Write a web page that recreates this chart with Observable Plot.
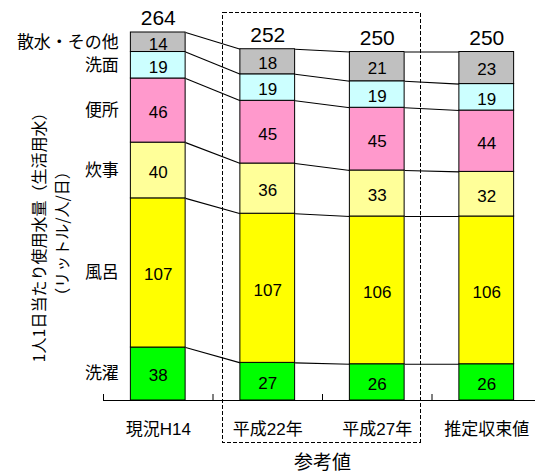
<!DOCTYPE html>
<html>
<head>
<meta charset="utf-8">
<script src="https://cdn.jsdelivr.net/npm/d3@7"></script>
<script src="https://cdn.jsdelivr.net/npm/@observablehq/plot@0.6"></script>
<style>
  html, body { margin: 0; padding: 0; background: #fff; overflow: hidden; }
</style>
</head>
<body>
<div id="chart"></div>
<script>
const categories = ["現況H14", "平成22年", "平成27年", "推定収束値"];
const uses = ["洗濯", "風呂", "炊事", "便所", "洗面", "散水・その他"];
const washing = [38, 27, 26, 26];
const bath = [107, 107, 106, 106];
const kitchen = [40, 36, 33, 32];
const toilet = [46, 45, 45, 44];
const washbasin = [19, 19, 19, 19];
const other = [14, 18, 21, 23];
const totals = [264, 252, 250, 250];
const referenceGroup = ["平成22年", "平成27年"];
const referenceLabel = "参考値";
const yTitle = "1人1日当たり使用水量（生活用水）\n（リットル/人/日）";
const colors = ["#00ff00", "#ffff00", "#ffff99", "#ff99cc", "#ccffff", "#c0c0c0"];

const series = [washing, bath, kitchen, toilet, washbasin, other];
const hw = 0.25; // half bar width in band units

// stacked table
const cells = [];
const cum = categories.map(() => [0]);
categories.forEach((c, i) => {
  let acc = 0;
  series.forEach((s, k) => {
    const y1 = acc, y2 = acc + s[i];
    cells.push({cat: c, i, use: uses[k], value: s[i], y1, y2, mid: (y1 + y2) / 2});
    acc = y2;
    cum[i].push(acc);
  });
});
const links = [];
for (let i = 0; i < categories.length - 1; i++) {
  for (let k = 1; k <= uses.length; k++) {
    links.push({x1: i + hw, x2: i + 1 - hw, y1: cum[i][k], y2: cum[i + 1][k]});
  }
}
const totalData = categories.map((c, i) => ({i, total: totals[i]}));
const catData = categories.map((c, i) => ({i, c}));
const boundaries = d3.range(categories.length).map(i => i - 0.5);
const firstBar = cells.filter(d => d.i === 0);
const r0 = categories.indexOf(referenceGroup[0]);
const r1 = categories.indexOf(referenceGroup[1]);

const font = "'Liberation Sans', Arial, 'Noto Sans CJK JP', sans-serif";

const chart = Plot.plot({
  width: 535,
  height: 474,
  marginLeft: 103,
  marginRight: 0,
  marginTop: 32,
  marginBottom: 74,
  style: {fontFamily: font, background: "#fff", color: "#000"},
  x: {domain: [-0.5, categories.length - 0.5], range: [103, 541], axis: null},
  y: {domain: [0, d3.max(totals)], axis: null},
  color: {domain: uses, range: colors},
  marks: [
    Plot.rect([{x1: r0 - hw, x2: r1 + hw, y1: 0, y2: d3.max(totals)}], {
      x1: "x1", x2: "x2", y1: "y1", y2: "y2",
      fill: "none", stroke: "#000", strokeWidth: 1, strokeDasharray: "4,2",
      shapeRendering: "crispEdges",
      insetLeft: -17, insetRight: -16, insetTop: -20, insetBottom: -42
    }),
    Plot.link(links, {x1: "x1", x2: "x2", y1: "y1", y2: "y2", stroke: "#000", strokeWidth: 1.1}),
    Plot.rect(cells, {
      x1: d => d.i - hw, x2: d => d.i + hw, y1: "y1", y2: "y2",
      fill: "use", stroke: "#000", strokeWidth: 1
    }),
    Plot.text(cells, {
      x: "i", y: "mid", text: d => String(d.value),
      fontSize: 17, dy: 2, fill: "#000", lineAnchor: "middle"
    }),
    Plot.text(totalData, {
      x: "i", y: "total", text: d => String(d.total),
      fontSize: 21, dy: -14, fill: "#000", lineAnchor: "middle"
    }),
    Plot.text(firstBar, {
      x: d => d.i - hw, y: "mid", text: "use",
      fontSize: 17, dx: -12, textAnchor: "end", fill: "#000", lineAnchor: "middle"
    }),
    Plot.ruleY([0], {stroke: "#000", strokeWidth: 1}),
    Plot.ruleX(boundaries, {y1: 0, y2: 0, insetTop: -6, stroke: "#000", strokeWidth: 1}),
    Plot.text(catData, {
      x: "i", y: 0, text: "c", fontSize: 17, dy: 29, fill: "#000", lineAnchor: "middle"
    }),
    Plot.text([referenceLabel], {
      x: (r0 + r1) / 2, y: 0, text: d => d, fontSize: 19, dy: 62, fill: "#000", lineAnchor: "middle"
    }),
    Plot.text([yTitle], {
      frameAnchor: "left", text: d => d, rotate: -90, fontSize: 16,
      lineHeight: 1.4, dx: -54, dy: 17, fill: "#000", lineAnchor: "middle", textAnchor: "middle",
      fontFamily: "'Noto Sans CJK JP', sans-serif"
    })
  ]
});
document.getElementById("chart").appendChild(chart);
</script>
</body>
</html>
